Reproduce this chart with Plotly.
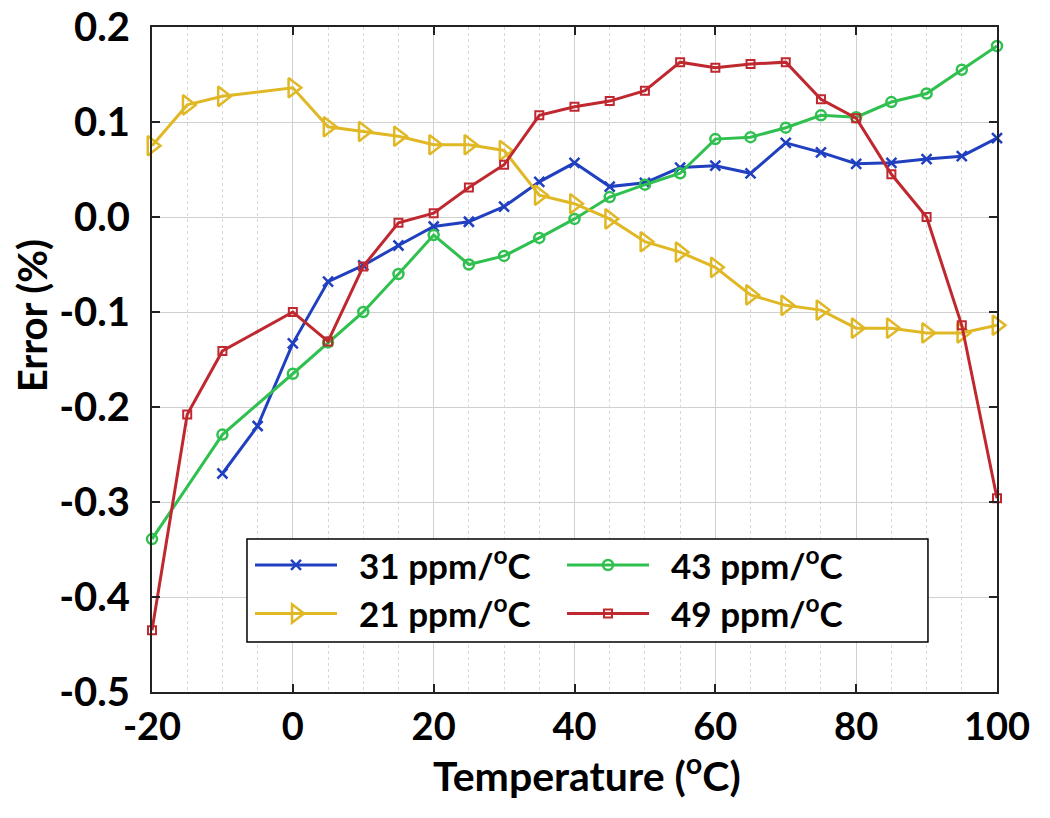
import plotly.graph_objects as go

# Temperature (°C) and error (%) series
t_31 = [-10, -5, 0, 5, 10, 15, 20, 25, 30, 35, 40, 45, 50, 55, 60, 65, 70, 75, 80, 85, 90, 95, 100]
e_31 = [-0.270, -0.220, -0.133, -0.068, -0.051, -0.030, -0.010, -0.005, 0.011, 0.037, 0.057, 0.032, 0.036,
        0.052, 0.054, 0.046, 0.078, 0.068, 0.056, 0.057, 0.061, 0.064, 0.083]

t_43 = [-20, -10, 0, 5, 10, 15, 20, 25, 30, 35, 40, 45, 50, 55, 60, 65, 70, 75, 80, 85, 90, 95, 100]
e_43 = [-0.339, -0.229, -0.165, -0.132, -0.100, -0.060, -0.019, -0.050, -0.041, -0.022, -0.002, 0.021, 0.034,
        0.046, 0.082, 0.084, 0.094, 0.107, 0.105, 0.121, 0.130, 0.155, 0.180]

t_21 = [-20, -15, -10, 0, 5, 10, 15, 20, 25, 30, 35, 40, 45, 50, 55, 60, 65, 70, 75, 80, 85, 90, 95, 100]
e_21 = [0.075, 0.118, 0.127, 0.136, 0.095, 0.090, 0.085, 0.076, 0.076, 0.070, 0.023, 0.014, -0.002, -0.026,
        -0.037, -0.053, -0.082, -0.093, -0.098, -0.117, -0.117, -0.122, -0.122, -0.114]

t_49 = [-20, -15, -10, 0, 5, 10, 15, 20, 25, 30, 35, 40, 45, 50, 55, 60, 65, 70, 75, 80, 85, 90, 95, 100]
e_49 = [-0.435, -0.208, -0.141, -0.100, -0.131, -0.052, -0.006, 0.004, 0.031, 0.055, 0.107, 0.116, 0.122,
        0.133, 0.163, 0.157, 0.161, 0.163, 0.124, 0.104, 0.045, 0.000, -0.114, -0.296]

names = ["31 ppm/<sup>o</sup>C", "43 ppm/<sup>o</sup>C", "21 ppm/<sup>o</sup>C", "49 ppm/<sup>o</sup>C"]
x_ticks = [-20, 0, 20, 40, 60, 80, 100]
y_ticks = [0.2, 0.1, 0.0, -0.1, -0.2, -0.3, -0.4, -0.5]
x_title = "Temperature (<sup>o</sup>C)"
y_title = "Error (%)"

FONT = "Lato"
PAD = "\u00a0\u00a0"

fig = go.Figure()
fig.add_trace(go.Scatter(x=t_31, y=e_31, name=PAD + names[0], mode="lines+markers", cliponaxis=False,
                         line=dict(color="#2040c0", width=3),
                         marker=dict(symbol="x-thin", size=10, line=dict(color="#2040c0", width=2.5))))
fig.add_trace(go.Scatter(x=t_43, y=e_43, name=PAD + names[1], mode="lines+markers", cliponaxis=False,
                         line=dict(color="#30c050", width=3),
                         marker=dict(symbol="circle-open", size=10, color="#30c050", line=dict(width=2.5))))
fig.add_trace(go.Scatter(x=t_21, y=e_21, name=PAD + names[2], mode="lines+markers", cliponaxis=False,
                         line=dict(color="#e0b825", width=3),
                         marker=dict(symbol="triangle-right-open", size=17, color="#e0b825", line=dict(width=2.5))))
fig.add_trace(go.Scatter(x=t_49, y=e_49, name=PAD + names[3], mode="lines+markers", cliponaxis=False,
                         line=dict(color="#c02830", width=3),
                         marker=dict(symbol="square-open", size=8, color="#c02830", line=dict(width=2))))

fig.update_layout(
    width=1050, height=818,
    margin=dict(l=152, r=53, t=27, b=126),
    paper_bgcolor="white", plot_bgcolor="white",
    font=dict(family=FONT, color="black"),
    legend=dict(orientation="h", x=0.116, y=0.235, xanchor="left", yanchor="top",
                bgcolor="rgba(0,0,0,0)", borderwidth=0,
                font=dict(family=FONT, size=35, color="black", weight="bold"),
                entrywidth=215, entrywidthmode="pixels", tracegroupgap=0,
                itemwidth=82),
    shapes=[
        dict(type="rect", xref="paper", yref="paper", x0=0.1124, x1=0.9183, y0=0.0752, y1=0.2301,
             fillcolor="white", line=dict(color="black", width=1.5), layer="above"),
    ],
    annotations=[
        dict(text=x_title, xref="paper", yref="paper", x=0.515, y=-0.122, xanchor="center", yanchor="middle",
             showarrow=False, font=dict(family=FONT, size=41, color="black", weight="bold")),
        dict(text=y_title, xref="paper", yref="paper", x=-0.142, y=0.565, xanchor="center", yanchor="middle",
             textangle=-90, showarrow=False, font=dict(family=FONT, size=40, color="black", weight="bold")),
    ],
)

fig.update_xaxes(
    range=[-20, 100], tickvals=x_ticks, ticktext=[str(v) for v in x_ticks],
    tickfont=dict(family=FONT, size=38, color="black", weight="bold"),
    ticklabelstandoff=0, automargin=False,
    showline=True, linecolor="#222", linewidth=2, mirror="ticks",
    ticks="inside", ticklen=8, tickwidth=1.5, tickcolor="#222",
    showgrid=True, gridcolor="#d0d0d0", gridwidth=1.2,
    minor=dict(dtick=5, showgrid=True, gridcolor="#d8d8d8", griddash="dot", gridwidth=1),
    zeroline=False,
)
fig.update_yaxes(
    range=[-0.5, 0.2], tickvals=y_ticks, ticktext=[f"{v:.1f}" for v in y_ticks],
    tickfont=dict(family=FONT, size=40, color="black", weight="bold"),
    ticklabelstandoff=12, automargin=False,
    showline=True, linecolor="#222", linewidth=2, mirror="ticks",
    ticks="inside", ticklen=8, tickwidth=1.5, tickcolor="#222",
    showgrid=True, gridcolor="#d0d0d0", gridwidth=1.2,
    zeroline=False,
)

fig.write_html("out.html", config={"displayModeBar": False},
               post_script="document.body.style.margin='0';")
